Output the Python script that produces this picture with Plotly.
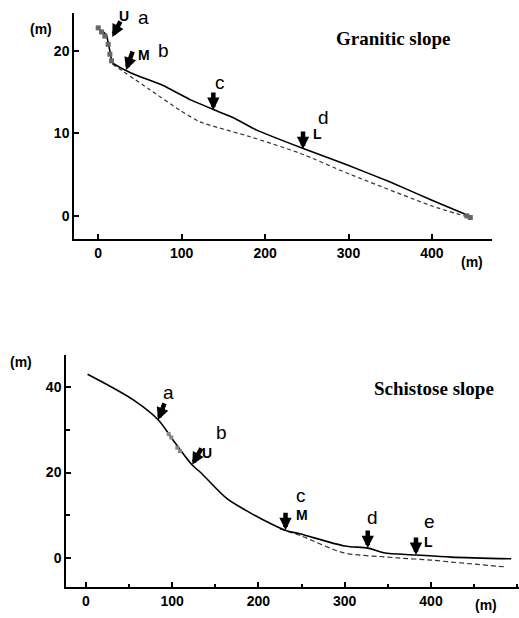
import plotly.graph_objects as go

# ---------------- data: granitic slope (top) ----------------
gran_surface_x = [-1, 5, 10, 12, 14, 17, 40, 78, 110, 138, 162, 190, 245, 298, 350, 400, 445]
gran_surface_y = [22.8, 22.4, 21.9, 21.0, 20.0, 18.6, 17.3, 15.8, 14.1, 12.9, 11.9, 10.4, 8.2, 6.2, 4.1, 1.9, 0.0]
gran_base_x = [17, 62, 98, 122, 182, 242, 298, 400, 442]
gran_base_y = [18.4, 15.3, 12.8, 11.4, 9.6, 7.6, 5.2, 1.2, -0.1]
gran_hatch_x = [0, 4, 8, 12, 14, 16, 442, 446]
gran_hatch_y = [22.8, 22.3, 21.8, 20.8, 19.6, 18.8, 0.0, -0.2]
gran_mark_x = [16.8, 33.5, 138, 245.5]
gran_mark_y = [21.7, 17.7, 12.85, 8.1]
gran_mark_letter = ["a", "b", "c", "d"]
gran_mark_zone = ["U", "M", "", "L"]

# ---------------- data: schistose slope (bottom) ----------------
sch_surface_x = [2, 55, 84, 101, 123, 133, 164, 185, 201, 231, 249, 300, 327, 345, 383, 423, 493]
sch_surface_y = [43.0, 37.0, 32.3, 27.6, 21.8, 20.0, 13.8, 11.2, 9.4, 6.5, 5.6, 2.8, 2.3, 1.2, 0.7, 0.2, -0.2]
sch_base_x = [225, 249, 299, 350, 362, 400, 420, 487]
sch_base_y = [6.8, 5.2, 1.2, 0.2, 0.0, -0.5, -0.9, -2.1]
sch_hatch_x = [96, 99, 106, 109]
sch_hatch_y = [29.0, 28.2, 25.8, 25.0]
sch_mark_x = [83.7, 123.3, 231.4, 326.7, 382.6]
sch_mark_y = [32.3, 21.8, 6.5, 2.3, 0.7]
sch_mark_letter = ["a", "b", "c", "d", "e"]
sch_mark_zone = ["", "U", "M", "", "L"]

W, H = 519, 618


def px(x):
    return x / W


def py(y):
    return 1 - y / H


fig = go.Figure()

# top panel
fig.add_trace(go.Scatter(x=gran_base_x, y=gran_base_y, mode="lines",
                         line=dict(color="#333", width=1.2, dash="4px,3px", shape="spline", smoothing=0.5),
                         xaxis="x", yaxis="y", showlegend=False))
fig.add_trace(go.Scatter(x=gran_surface_x, y=gran_surface_y, mode="lines",
                         line=dict(color="black", width=1.6, shape="spline", smoothing=0.4),
                         xaxis="x", yaxis="y", showlegend=False))
fig.add_trace(go.Scatter(x=gran_hatch_x, y=gran_hatch_y, mode="markers",
                         marker=dict(color="#666", size=5, symbol="square"),
                         xaxis="x", yaxis="y", showlegend=False))
# bottom panel
fig.add_trace(go.Scatter(x=sch_base_x, y=sch_base_y, mode="lines",
                         line=dict(color="#333", width=1.2, dash="5px,3px", shape="spline", smoothing=0.8),
                         xaxis="x2", yaxis="y2", showlegend=False))
fig.add_trace(go.Scatter(x=sch_surface_x, y=sch_surface_y, mode="lines",
                         line=dict(color="black", width=1.6, shape="spline", smoothing=0.9),
                         xaxis="x2", yaxis="y2", showlegend=False))
fig.add_trace(go.Scatter(x=sch_hatch_x, y=sch_hatch_y, mode="markers",
                         marker=dict(color="#888", size=4, symbol="square"),
                         xaxis="x2", yaxis="y2", showlegend=False))

tickfont = dict(family="Liberation Sans", size=14, color="black", weight="bold")
axis_common = dict(showline=True, linecolor="black", linewidth=1.5, ticks="inside",
                   ticklen=5, tickcolor="black", tickwidth=1.5, showgrid=False,
                   zeroline=False, tickfont=tickfont, mirror=False, fixedrange=True)

fig.update_layout(
    width=W, height=H, margin=dict(l=0, r=0, t=0, b=0),
    paper_bgcolor="white", plot_bgcolor="white",
    xaxis=dict(domain=[px(74), px(492)], anchor="y", range=[-29, 472],
               tickvals=[0, 100, 200, 300, 400], **axis_common),
    yaxis=dict(domain=[py(239), py(13)], anchor="x", range=[-2.8, 24.6],
               tickvals=[0, 10, 20], **axis_common),
    xaxis2=dict(domain=[px(66), 1.0], anchor="y2", range=[-23, 502],
                tickvals=[0, 100, 200, 300, 400],
                minor=dict(dtick=50, tick0=0, ticks="inside", ticklen=3, tickcolor="black"),
                **axis_common),
    yaxis2=dict(domain=[py(587), py(355)], anchor="x2", range=[-6.8, 47.5],
                tickvals=[0, 20, 40],
                minor=dict(dtick=10, tick0=0, ticks="inside", ticklen=4, tickcolor="black"),
                **axis_common),
)

ann = []
unit_font = dict(family="Liberation Sans", size=14, color="black", weight="bold")
for (x, y) in [(41, 29), (472, 262), (21, 362), (486, 605)]:
    ann.append(dict(x=px(x), y=py(y), xref="paper", yref="paper", text="(m)",
                    xanchor="center", yanchor="middle", showarrow=False, font=unit_font))

title_font = dict(family="Liberation Serif", size=19, color="black", weight="bold")
ann.append(dict(x=px(393), y=py(39), xref="paper", yref="paper", text="Granitic slope",
                xanchor="center", yanchor="middle", showarrow=False, font=title_font))
ann.append(dict(x=px(434), y=py(388), xref="paper", yref="paper", text="Schistose slope",
                xanchor="center", yanchor="middle", showarrow=False, font=title_font))

letter_font = dict(family="Liberation Sans", size=19, color="black")
zone_font = dict(family="Liberation Sans", size=14, color="black", weight="bold")

# arrow tail offsets (px) and label shifts, per mark (style only)
gran_arrow = [(9, -17), (7, -20), (0, -19), (0, -19)]
gran_zone_shift = [(12, 21), (18, 15), (0, 0), (14, 15)]
gran_letter_shift = [(31, 19), (37, 19), (7, 27), (20, 32)]
sch_arrow = [(7, -18), (10, -18), (0, -19), (0, -19), (0, -19)]
sch_zone_shift = [(0, 0), (15, 12), (16, 15), (0, 0), (13, 13)]
sch_letter_shift = [(10, 27), (29, 32), (15, 35), (5, 31), (14, 33)]


def add_marks(xs, ys, letters, zones, arrows, zshift, lshift, xr, yr):
    for i in range(len(xs)):
        ax, ay = arrows[i]
        ann.append(dict(x=xs[i], y=ys[i], xref=xr, yref=yr, text="", showarrow=True,
                        ax=ax, ay=ay, arrowhead=2, arrowsize=0.55, arrowwidth=4.5,
                        arrowcolor="black", standoff=0))
        if zones[i]:
            ann.append(dict(x=xs[i], y=ys[i], xref=xr, yref=yr, text=zones[i],
                            xanchor="center", yanchor="middle",
                            showarrow=False, xshift=zshift[i][0], yshift=zshift[i][1],
                            font=zone_font))
        ann.append(dict(x=xs[i], y=ys[i], xref=xr, yref=yr, text=letters[i],
                        xanchor="center", yanchor="middle",
                        showarrow=False, xshift=lshift[i][0], yshift=lshift[i][1],
                        font=letter_font))


add_marks(gran_mark_x, gran_mark_y, gran_mark_letter, gran_mark_zone,
          gran_arrow, gran_zone_shift, gran_letter_shift, "x", "y")
add_marks(sch_mark_x, sch_mark_y, sch_mark_letter, sch_mark_zone,
          sch_arrow, sch_zone_shift, sch_letter_shift, "x2", "y2")

fig.update_layout(annotations=ann)
fig.write_html("out.html")
